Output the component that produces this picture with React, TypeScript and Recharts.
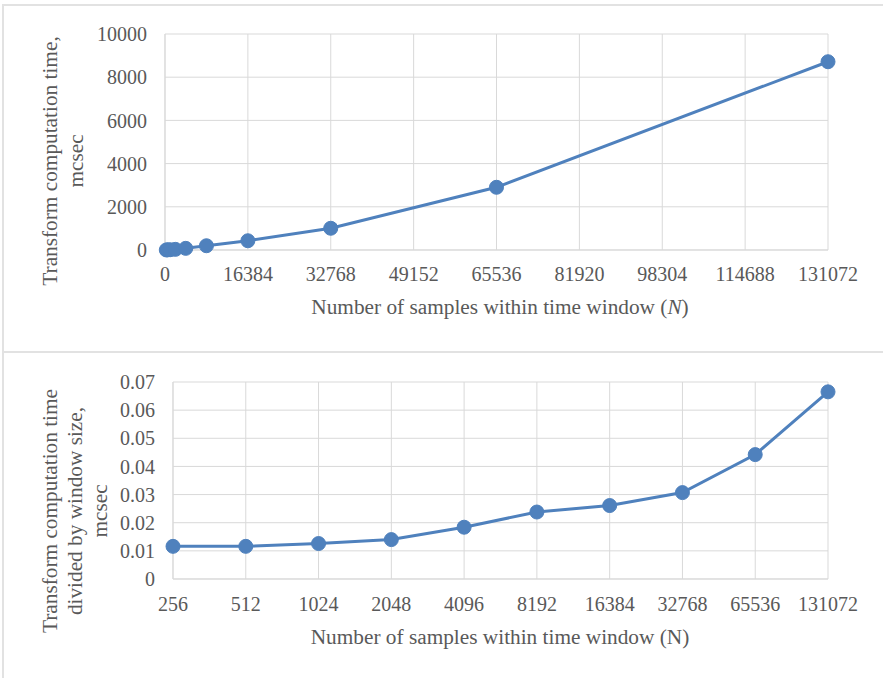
import { CartesianGrid, Label, Line, LineChart, XAxis, YAxis } from "recharts";

const windowSizes = [256, 512, 1024, 2048, 4096, 8192, 16384, 32768, 65536, 131072];
const totalTimes = [3, 6, 13, 29, 76, 197, 428, 1006, 2903, 8716];
const perSampleTimes = [0.0116, 0.0116, 0.0126, 0.0140, 0.0184, 0.0238, 0.0261, 0.0307, 0.0442, 0.0665];

const topXTicks = [0, 16384, 32768, 49152, 65536, 81920, 98304, 114688, 131072];
const topYTicks = [0, 2000, 4000, 6000, 8000, 10000];
const bottomYTicks = [0, 0.01, 0.02, 0.03, 0.04, 0.05, 0.06, 0.07];

const FONT = "'Liberation Serif', 'Times New Roman', serif";
const TEXT = "#595959";
const GRID = "#d9d9d9";
const BLUE = "#4f81bd";
const TITLE_SIZE = 21.3;
const tick = { fill: TEXT, fontSize: 20, fontFamily: FONT };

const topData = windowSizes.map((n, i) => ({ n, time: totalTimes[i] }));
const bottomData = windowSizes.map((n, i) => ({ n: String(n), time: perSampleTimes[i] }));

function RotatedLines({ lines, xs, cy }: { lines: string[]; xs: number[]; cy: number }) {
  return (
    <g>
      {lines.map((t, i) => (
        <text
          key={i}
          x={xs[i]}
          y={cy}
          transform={`rotate(-90 ${xs[i]} ${cy})`}
          textAnchor="middle"
          fill={TEXT}
          fontSize={TITLE_SIZE}
          fontFamily={FONT}
        >
          {t}
        </text>
      ))}
    </g>
  );
}

function XTitle({ x, y, italicN }: { x: number; y: number; italicN: boolean }) {
  return (
    <text x={x} y={y} textAnchor="middle" fill={TEXT} fontSize={TITLE_SIZE} fontFamily={FONT}>
      Number of samples within time window (
      <tspan fontStyle={italicN ? "italic" : "normal"}>N</tspan>)
    </text>
  );
}

const line = (
  <Line
    type="linear"
    dataKey="time"
    stroke={BLUE}
    strokeWidth={3}
    dot={{ r: 7, fill: BLUE, stroke: BLUE, strokeWidth: 1 }}
    activeDot={false}
    isAnimationActive={false}
  />
);

export default function App() {
  return (
    <div style={{ position: "fixed", left: 0, top: 0, width: 883, height: 678, background: "#fff" }}>
      <div style={{ position: "absolute", left: 2, top: 4, width: 881, height: 2, background: "#e2e2e2" }} />
      <div style={{ position: "absolute", left: 2, top: 4, width: 2, height: 674, background: "#e2e2e2" }} />
      <div style={{ position: "absolute", left: 2, top: 351, width: 881, height: 2, background: "#e2e2e2" }} />

      <div style={{ position: "absolute", left: 0, top: 0 }}>
        <LineChart width={883} height={340} data={topData} margin={{ top: 34, right: 55, bottom: 60, left: 0 }}>
          <CartesianGrid stroke={GRID} />
          <XAxis
            dataKey="n"
            type="number"
            domain={[0, 131072]}
            ticks={topXTicks}
            interval={0}
            tick={tick}
            tickLine={false}
            tickMargin={11}
            axisLine={{ stroke: GRID }}
          >
            <Label content={() => <XTitle x={500} y={314} italicN />} />
          </XAxis>
          <YAxis
            width={165}
            domain={[0, 10000]}
            ticks={topYTicks}
            interval={0}
            tick={tick}
            tickLine={false}
            tickMargin={12}
            axisLine={{ stroke: GRID }}
          >
            <Label
              content={() => (
                <RotatedLines lines={["Transform computation time,", "mcsec"]} xs={[57, 83]} cy={161} />
              )}
            />
          </YAxis>
          {line}
        </LineChart>
      </div>

      <div style={{ position: "absolute", left: 0, top: 345 }}>
        <LineChart width={883} height={333} data={bottomData} margin={{ top: 37, right: 55, bottom: 69, left: 0 }}>
          <CartesianGrid stroke={GRID} />
          <XAxis
            dataKey="n"
            type="category"
            interval={0}
            tick={tick}
            tickLine={false}
            tickMargin={12}
            axisLine={{ stroke: GRID }}
          >
            <Label content={() => <XTitle x={500} y={299} italicN={false} />} />
          </XAxis>
          <YAxis
            width={173}
            domain={[0, 0.07]}
            ticks={bottomYTicks}
            interval={0}
            tick={tick}
            tickLine={false}
            tickMargin={12}
            axisLine={{ stroke: GRID }}
          >
            <Label
              content={() => (
                <RotatedLines
                  lines={["Transform computation time", "divided by window size,", "mcsec"]}
                  xs={[57, 82, 107]}
                  cy={166}
                />
              )}
            />
          </YAxis>
          {line}
        </LineChart>
      </div>
    </div>
  );
}
